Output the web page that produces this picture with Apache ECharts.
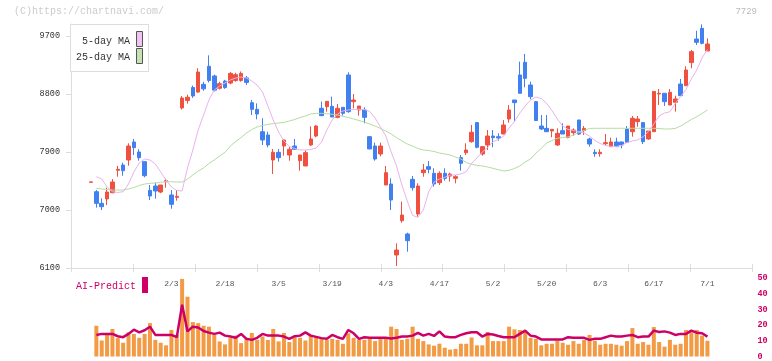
<!DOCTYPE html>
<html><head><meta charset="utf-8">
<script src="https://cdn.jsdelivr.net/npm/echarts@6/dist/echarts.min.js"></script>
<style>html,body{margin:0;padding:0;background:#fff}#c{width:772px;height:361px}</style>
</head><body><div id="c"></div>
<script>
// slot labels on the x axis (trading-day slot index -> label)
const labelSlots = [15, 25, 35, 45, 55, 65, 75, 85, 95, 105, 115];
const dateLabels = ['2/3', '2/18', '3/5', '3/19', '4/3', '4/17', '5/2', '5/20', '6/3', '6/17', '7/1'];
const priceTicks = [6100, 7000, 7900, 8800, 9700];

const openP = [7430,7284,7103,7171,7268,7616,7698,7776,8055,7900,7750,7305,7372,7279,7440,7233,7196,
  8583,8700,8900,8830,8950,9230,9080,8890,9000,8970,9010,9010,9050,
  8665,8562,8215,8164,7776,7895,7993,7853,7993,7765,7683,8009,8148,8578,8603,8609,8438,8593,9095,8681,
  8552,8552,8138,7993,7869,7388,7403,6302,6834,6628,7476,6938,7579,7673,7569,7424,7569,7527,7491,7812,
  7890,8060,8356,7869,8009,8148,8138,8179,8412,8707,9095,9292,8940,8681,8303,8267,8226,8009,8231,8128,
  8200,8397,8231,8102,7895,7874,8029,7983,8055,8055,8257,8215,8371,8356,8102,8215,8800,8811,8629,8671,
  8955,8929,9287,9653,9819,9467];
const closeP = [7436,7103,7051,7279,7434,7632,7610,7993,7967,7812,7532,7217,7295,7388,7455,7088,7212,
  8738,8750,8770,9140,8880,9010,8860,8960,8900,9120,9100,9120,8980,
  8562,8490,8086,8009,7895,7812,8086,7942,7942,7853,7890,8102,8303,8464,8686,8443,8578,8500,8526,8707,
  8614,8438,7947,7791,7993,7579,7155,6379,6922,6524,7346,7372,7621,7632,7403,7569,7491,7558,7517,7724,
  7931,8206,7973,7983,8148,8122,8117,8319,8552,8666,8811,9043,8759,8388,8257,8215,8252,8190,8179,8303,
  8241,8179,8267,8024,7874,7895,8045,8055,7983,8009,8050,8423,8412,8060,8226,8840,8811,8681,8826,8723,
  8774,9172,9457,9602,9586,9576];
const lowP = [7430,7036,7000,7077,7260,7517,7532,7688,7853,7765,7507,7155,7175,7260,7346,7020,7145,
  8560,8650,8740,8820,8850,8980,8840,8870,8880,8950,8990,8990,8940,
  8474,8407,8009,7973,7559,7750,7843,7765,7931,7610,7683,7993,8128,8464,8526,8443,8423,8464,8510,8578,
  8464,8345,7947,7765,7833,7388,7000,6131,6803,6353,7300,6896,7517,7569,7362,7388,7455,7440,7414,7610,
  7853,8045,7957,7843,7931,7973,8076,8179,8355,8371,8811,8904,8717,8388,8241,8215,8128,7993,8179,8112,
  8153,8164,8164,7983,7827,7827,8009,7983,7983,7957,8050,8138,8293,8024,8090,8215,8629,8614,8629,8526,
  8774,8929,9199,9560,9571,9467];
const highP = [7436,7310,7182,7346,7480,7683,7734,8035,8102,7942,7750,7388,7424,7388,7490,7310,7310,
  8770,8790,8930,9200,8990,9400,9100,8990,9020,9140,9130,9150,9080,
  8707,8655,8423,8215,7947,7947,8102,7983,8102,7853,7926,8298,8319,8681,8686,8759,8645,8593,9137,8800,
  8614,8593,8148,8045,8045,7683,7490,6483,7129,6648,7528,7414,7714,7760,7647,7600,7647,7579,7543,7853,
  8035,8319,8356,7993,8241,8241,8190,8397,8629,8707,9302,9421,8992,8681,8474,8474,8252,8267,8345,8303,
  8267,8397,8303,8122,7942,7942,8179,8122,8122,8060,8303,8459,8459,8356,8226,8847,8878,8811,8878,8774,
  9033,9230,9483,9782,9881,9664];

const ma5 = [null,7517,7481,7357,7284,7272,7284,7403,7590,7729,7791,7776,7714,7590,7466,7357,7303,7295,
  7652,7931,8241,8474,8707,8862,8924,8971,9017,9048,9064,9048,9002,8940,8831,8614,8397,8210,8071,7985,
  7954,7931,7931,7939,7962,8055,8241,8397,8490,8536,8552,8560,8563,8560,8528,8428,8288,8148,7900,7683,
  7388,7140,6915,6887,7000,7279,7434,7481,7507,7543,7543,7559,7594,7722,7807,7900,7970,8060,8094,8148,
  8272,8373,8505,8614,8707,8753,8730,8656,8544,8412,8303,8249,8234,8218,8195,8148,8078,8032,8001,7988,
  7985,8001,8047,8071,8086,8137,8218,8334,8459,8505,8525,8653,8761,8870,9033,9172,9359,9490];
const ma25 = [null,7337,7326,7318,7310,7310,7310,7326,7349,7380,7403,7414,7419,7430,7439,7439,7434,7434,
  7481,7543,7605,7652,7722,7776,7838,7895,7993,8063,8125,8195,8249,8288,8311,8330,8340,8350,8358,8381,
  8404,8435,8459,8490,8500,8500,8495,8485,8474,8454,8435,8412,8389,8365,8334,8303,8265,8226,8179,8125,
  8071,8024,7993,7954,7931,7923,7908,7884,7869,7853,7822,7791,7737,7709,7693,7683,7667,7647,7625,7605,
  7616,7644,7683,7745,7791,7884,7954,8040,8078,8113,8125,8133,8164,8203,8234,8265,8268,8268,8268,8268,
  8268,8268,8268,8268,8268,8268,8268,8268,8265,8257,8257,8265,8303,8353,8404,8448,8497,8552];

const aiBars = [null,19.6,10.2,13.75,17.5,11.7,8.75,15.4,14.4,11.9,14.4,21.25,10.6,8.75,7.1,16.9,13.75,
  49.4,38.1,21.9,21.25,19.6,19,13.75,9.6,7.7,11.7,13.3,8.5,11.25,15,10.6,12.7,10.6,17.5,9.6,15,9.2,
  12.3,11.9,10.2,13.75,12.3,11.25,10.6,11.25,10.6,8.1,14.8,11.9,10.6,10.6,11.25,9.8,11.7,11.25,19,17.5,
  10.6,11.25,19,11.25,9.8,7.7,6.9,8.1,5.6,4.4,4.8,8.1,8.1,12.1,7.1,7.1,15.6,9.8,9.8,9.8,19,17.3,16.9,
  15.6,11.9,11.25,7.1,8.1,8.1,10.2,8.75,7.5,9.8,8.1,10.6,13.75,10,7.5,8.1,8.1,7.5,6.9,9.8,18.1,8.1,
  9.2,7.5,18.75,9.2,6.25,10.6,7.5,8.1,16.9,15.4,16.9,13.3,10];
const aiLine = [null,13.75,14.4,14.4,14.4,12.9,12.3,14.4,17.1,15.4,16.7,19,13.75,13.75,13.75,13.75,12.3,
  33,16,19,18.5,16.2,15.2,14.4,15.2,13.3,12.7,11.9,14.4,11.25,10.6,11.9,14.4,13.3,13.3,13.3,12.7,11.25,
  12.9,13.3,15.4,13.3,12.5,11.7,11.25,13.75,12.3,11.25,16.9,14.8,11.25,12.3,11.9,11.9,11.9,11.9,11.5,
  11.9,12.7,12.7,13.3,15,13.3,14.4,13.1,16,12.7,12.3,12.3,13.75,14.8,15.4,15.4,12.7,14.4,14,13.1,12.3,
  12.3,12.3,14.4,16.5,13.3,12.7,10.85,10.85,10.85,10.85,10.85,12.3,11.9,11.9,11.9,10.6,11.25,11.25,
  12.3,13.3,12.7,12.7,13.3,13.75,12.3,12.7,12.7,16.5,15.6,16,15.2,13.75,14.4,14.4,16.5,15.2,14.8,12.7];

const xMin = -3.731, xMax = 123.41;
const xTicks = [];
for (let k = 0; k <= 11; k++) xTicks.push(xMin + k * (xMax - xMin) / 11);

const candleData = openP.map((o, i) => [i, o, closeP[i], lowP[i], highP[i]]);
const pair = arr => arr.map((v, i) => [i, v]).filter(d => d[1] != null);

const FONT = 'Liberation Mono';
const chart = echarts.init(document.getElementById('c'), null, {renderer: 'canvas'});
chart.setOption({
  animation: false,
  backgroundColor: '#fff',
  grid: [
    {left: 71, top: 24, width: 681.5, height: 244},
    {left: 71, top: 278, width: 681.5, height: 80}
  ],
  xAxis: [
    {gridIndex: 0, type: 'value', min: xMin, max: xMax,
      axisLine: {show: true, onZero: false, lineStyle: {color: '#ddd'}},
      axisTick: {show: true, customValues: xTicks, length: 4, lineStyle: {color: '#ddd'}},
      axisLabel: {customValues: labelSlots, formatter: v => dateLabels[labelSlots.indexOf(Math.round(v))] || '',
        color: '#555', fontSize: 8, fontFamily: FONT, margin: 12},
      splitLine: {show: false}},
    {gridIndex: 1, type: 'value', min: xMin, max: xMax, position: 'top', offset: 10,
      axisLine: {show: false, onZero: false},
      axisTick: {show: true, customValues: xTicks, length: 4, lineStyle: {color: '#ddd'}},
      axisLabel: {show: false}, splitLine: {show: false}}
  ],
  yAxis: [
    {gridIndex: 0, type: 'value', min: 6100, max: 9886.2,
      axisLine: {show: true, onZero: false, lineStyle: {color: '#ddd'}},
      axisTick: {show: true, customValues: priceTicks, length: 5, lineStyle: {color: '#ddd'}},
      axisLabel: {customValues: priceTicks, formatter: v => String(v), color: '#333', fontSize: 8.5, fontFamily: FONT, margin: 11},
      splitLine: {show: false}},
    {gridIndex: 1, type: 'value', min: 0, max: 50, interval: 10, position: 'right',
      axisLine: {show: false, onZero: false}, axisTick: {show: false},
      axisLabel: {color: '#cc0066', fontSize: 8.5, fontWeight: 'bold', fontFamily: FONT, margin: 5},
      splitLine: {show: false}}
  ],
  series: [
    {type: 'candlestick', xAxisIndex: 0, yAxisIndex: 0, data: candleData, barWidth: 4,
      itemStyle: {color: '#f05040', color0: '#4080f0', borderColor: '#f05040', borderColor0: '#4080f0', borderWidth: 1}},
    {type: 'line', xAxisIndex: 0, yAxisIndex: 0, data: pair(ma25), symbol: 'none',
      lineStyle: {color: '#b4dca4', width: 1}},
    {type: 'line', xAxisIndex: 0, yAxisIndex: 0, data: pair(ma5), symbol: 'none',
      lineStyle: {color: '#e8b4ec', width: 1}},
    {type: 'bar', xAxisIndex: 1, yAxisIndex: 1, data: pair(aiBars), barWidth: 4,
      itemStyle: {color: '#f29a44'}},
    {type: 'line', xAxisIndex: 1, yAxisIndex: 1, data: pair(aiLine), symbol: 'none',
      lineStyle: {color: '#cc0066', width: 2.5}}
  ],
  graphic: [
    {type: 'text', left: 14, top: 6, style: {text: '(C)https://chartnavi.com/', fill: '#ccc', font: '10px "Liberation Mono"'}},
    {type: 'text', right: 15, top: 7, style: {text: '7729', fill: '#bbb', font: '9px "Liberation Mono"'}},
    {type: 'rect', shape: {x: 70.5, y: 24.5, width: 78, height: 47}, style: {fill: '#fff', stroke: '#ddd', lineWidth: 1}, z: 100},
    {type: 'text', x: 130, y: 41, z: 101, style: {text: '5-day MA', fill: '#333', font: '10px "Liberation Mono"', textAlign: 'right', textVerticalAlign: 'middle'}},
    {type: 'rect', shape: {x: 136.5, y: 31.5, width: 6, height: 15}, style: {fill: '#f0c4f0', stroke: '#555', lineWidth: 1}, z: 101},
    {type: 'text', x: 130, y: 57, z: 101, style: {text: '25-day MA', fill: '#333', font: '10px "Liberation Mono"', textAlign: 'right', textVerticalAlign: 'middle'}},
    {type: 'rect', shape: {x: 136.5, y: 48.5, width: 6, height: 15}, style: {fill: '#c4e2b4', stroke: '#555', lineWidth: 1}, z: 101},
    {type: 'text', x: 76, y: 286, z: 101, style: {text: 'AI-Predict', fill: '#cc0066', font: '10px "Liberation Mono"', textVerticalAlign: 'middle'}},
    {type: 'rect', shape: {x: 142, y: 277, width: 6, height: 16}, style: {fill: '#cc0066'}, z: 101}
  ]
});
</script></body></html>
